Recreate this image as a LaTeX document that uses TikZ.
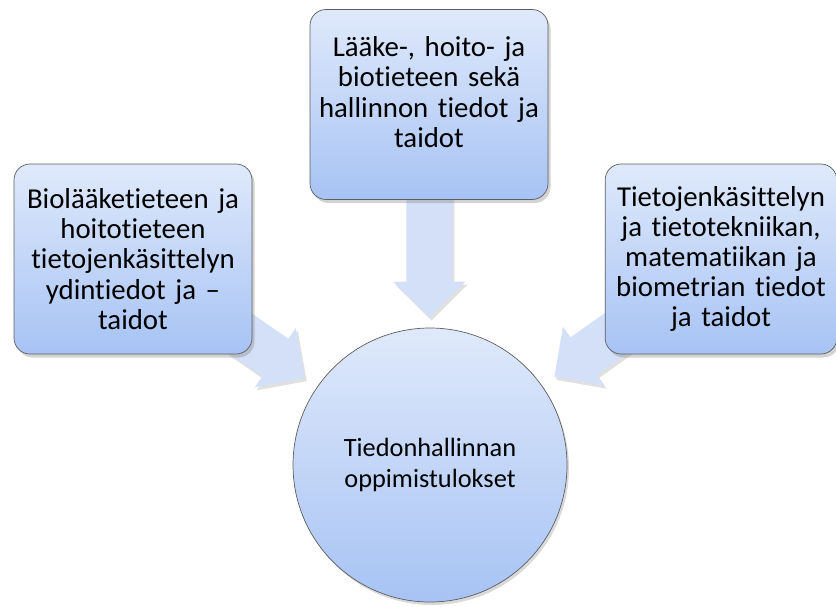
\documentclass[tikz,border=0pt]{standalone}
\usepackage{fontspec}
\setmainfont{Carlito}[Ligatures=CommonOff]
\usetikzlibrary{arrows.meta,shadows,backgrounds}

\definecolor{boxtop}{HTML}{DFE9FB}
\definecolor{boxbottom}{HTML}{A7C3F4}
\definecolor{arrowblue}{HTML}{D3E0F8}
\definecolor{edgegray}{HTML}{5E5E5E}

\tikzset{
    topicbox/.style={rectangle, rounded corners=0.32cm, draw=edgegray, thin,
        top color=boxtop, bottom color=boxbottom,
        minimum width=4.76cm, minimum height=3.8cm, text width=4.4cm,
        align=center, font=\fontsize{16.4}{17.2}\selectfont,
        drop shadow={opacity=0.35, shadow xshift=0.05cm, shadow yshift=-0.07cm}},
    lifted/.style={execute at end node={\par\vspace*{0.5cm}}},
    goalcircle/.style={circle, draw=edgegray, thin,
        top color=boxtop, bottom color=boxbottom,
        minimum size=5.48cm, align=center, font=\fontsize{15}{17.2}\selectfont,
        drop shadow={opacity=0.3, shadow xshift=0.04cm, shadow yshift=-0.06cm}},
    feedarrow/.style={draw=arrowblue, line width=0.92cm,
        -{Triangle[length=0.72cm,width=1.4cm]}},
    feedshadow/.style={draw=black, opacity=0.12, line width=0.92cm,
        -{Triangle[length=0.72cm,width=1.4cm]}}
}

\begin{document}
\begin{tikzpicture}
    \useasboundingbox (0,0) rectangle (16.72,-12.12);

    \node[goalcircle] (goal) at (8.6, -9.3) {Tiedonhallinnan\\oppimistulokset};

    \node[topicbox, lifted] (medical) at (8.58, -2.09)
        {Lääke-, hoito- ja\\biotieteen sekä\\hallinnon tiedot ja\\taidot};
    \node[topicbox] (core) at (2.66, -5.18)
        {Biolääketieteen ja\\hoitotieteen\\tietojenkäsittelyn\\ydintiedot ja --\\taidot};
    \node[topicbox, minimum width=4.6cm] (computing) at (14.42, -5.18)
        {Tietojenkäsittelyn\\ja tietotekniikan,\\matematiikan ja\\biometrian tiedot\\ja taidot};

    \begin{scope}[on background layer]
        \draw[feedshadow, shorten >=0.2cm, transform canvas={xshift=0.04cm, yshift=-0.06cm}] (medical.center) -- (goal);
        \draw[feedshadow, shorten >=0.3cm, transform canvas={xshift=0.04cm, yshift=-0.06cm}] (core.center) -- (goal);
        \draw[feedshadow, shorten >=0.3cm, transform canvas={xshift=0.04cm, yshift=-0.06cm}] (computing.center) -- (goal);
        \draw[feedarrow, shorten >=0.2cm] (medical.center) -- (goal);
        \draw[feedarrow, shorten >=0.3cm] (core.center) -- (goal);
        \draw[feedarrow, shorten >=0.3cm] (computing.center) -- (goal);
    \end{scope}
\end{tikzpicture}
\end{document}
